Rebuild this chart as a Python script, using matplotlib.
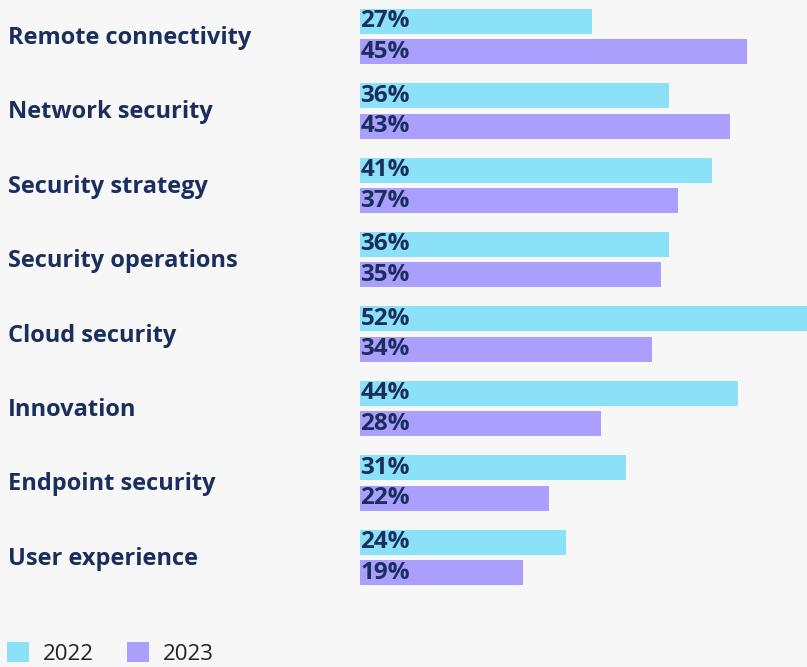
import matplotlib
matplotlib.use("Agg")
import matplotlib.pyplot as plt
from matplotlib.patches import Patch
import numpy as np

categories = ["Remote connectivity", "Network security", "Security strategy",
              "Security operations", "Cloud security", "Innovation",
              "Endpoint security", "User experience"]
values_2022 = [27, 36, 41, 36, 52, 44, 31, 24]
values_2023 = [45, 43, 37, 35, 34, 28, 22, 19]
series_names = ["2022", "2023"]

c22 = "#8be1f8"
c23 = "#aa9ffd"
navy = "#1a2f5e"
bg = "#f7f7f7"
font = "Open Sans"

W, H = 807, 667
fig = plt.figure(figsize=(W / 100, H / 100), dpi=100, facecolor=bg)

# axes placement in pixels
step = 74.4
top_lim, bot_lim = -0.45, 7.6
first_c = 36.5
ax_top_px = first_c + top_lim * step
ax_bot_px = first_c + bot_lim * step
ax_left_px, ax_right_px = 360, 807
ax = fig.add_axes([ax_left_px / W, 1 - ax_bot_px / H,
                   (ax_right_px - ax_left_px) / W, (ax_bot_px - ax_top_px) / H])
ax.set_facecolor(bg)
y = np.arange(len(categories))
off = 0.205
bh = 0.335
ax.barh(y - off, values_2022, height=bh, color=c22, left=0)
ax.barh(y + off, values_2023, height=bh, color=c23, left=0)
ax.set_xlim(0, 52)
ax.set_ylim(bot_lim, top_lim)
ax.axis("off")

for yi, v in zip(y, values_2022):
    ax.text(0.05, yi - off, f"{v}%", va="center", ha="left", fontsize=17.5,
            fontweight="bold", color=navy, family=font)
for yi, v in zip(y, values_2023):
    ax.text(0.05, yi + off, f"{v}%", va="center", ha="left", fontsize=17.5,
            fontweight="bold", color=navy, family=font)

for yi, cat in zip(y, categories):
    ypx = first_c + 1.5 + yi * step
    fig.text(8 / W, 1 - ypx / H, cat, ha="left", va="center", fontsize=17,
             fontweight="bold", color=navy, family=font)

handles = [Patch(facecolor=c22, edgecolor="none"), Patch(facecolor=c23, edgecolor="none")]
fig.legend(handles, series_names, loc="lower left", bbox_to_anchor=(7 / W, 2 / H),
           ncol=2, frameon=False, handlelength=1.0, handleheight=1.0,
           handletextpad=0.6, columnspacing=1.5, borderaxespad=0, borderpad=0,
           prop={"family": font, "size": 16}, labelcolor="#222222")

fig.savefig("out.png", dpi=100, facecolor=bg)
